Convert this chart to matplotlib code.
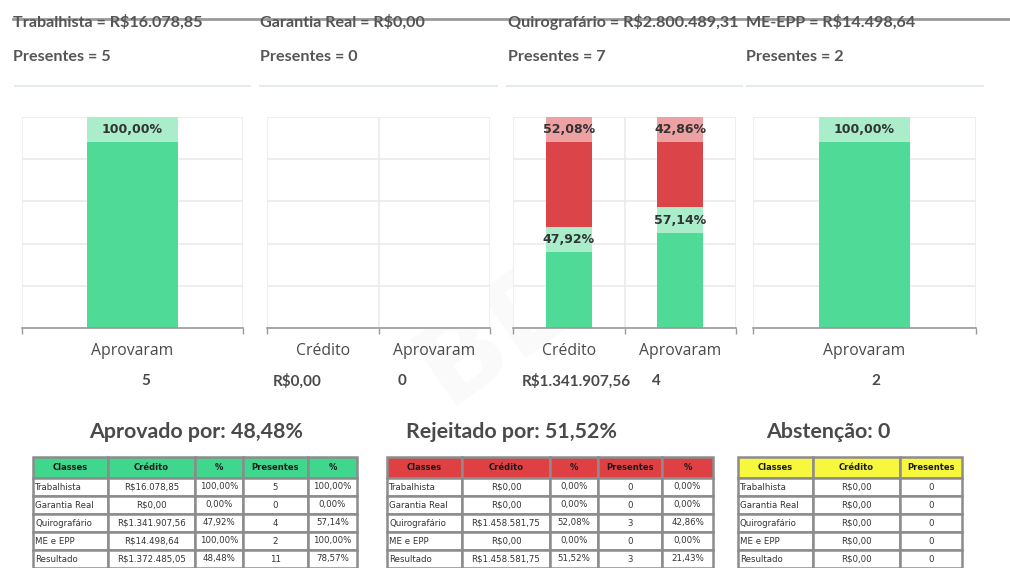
import matplotlib.pyplot as plt
from matplotlib.patches import Rectangle
from matplotlib.lines import Line2D
import numpy as np

W, H = 1010, 568

# ---------------------------------------------------------------- data
header_classes = ['Trabalhista', 'Garantia Real', 'Quirografário', 'ME-EPP']
header_credito = ['R$16.078,85', 'R$0,00', 'R$2.800.489,31', 'R$14.498,64']
presentes = [5, 0, 7, 2]

panel_categories = [['Aprovaram'], ['Crédito', 'Aprovaram'], ['Crédito', 'Aprovaram'], ['Aprovaram']]
aprovado_pct = [[100.00], [0.0, 0.0], [47.92, 57.14], [100.00]]
rejeitado_pct = [[0.0], [0.0, 0.0], [52.08, 42.86], [0.0]]
panel_values = [['5'], ['R$0,00', '0'], ['R$1.341.907,56', '4'], ['2']]

summary = ['Aprovado por: 48,48%', 'Rejeitado por: 51,52%', 'Abstenção: 0']

table_classes = ['Trabalhista', 'Garantia Real', 'Quirografário', 'ME e EPP', 'Resultado']
aprov_credito = ['R$16.078,85', 'R$0,00', 'R$1.341.907,56', 'R$14.498,64', 'R$1.372.485,05']
aprov_pct_cred = ['100,00%', '0,00%', '47,92%', '100,00%', '48,48%']
aprov_pres = ['5', '0', '4', '2', '11']
aprov_pct_pres = ['100,00%', '0,00%', '57,14%', '100,00%', '78,57%']
rej_credito = ['R$0,00', 'R$0,00', 'R$1.458.581,75', 'R$0,00', 'R$1.458.581,75']
rej_pct_cred = ['0,00%', '0,00%', '52,08%', '0,00%', '51,52%']
rej_pres = ['0', '0', '3', '0', '3']
rej_pct_pres = ['0,00%', '0,00%', '42,86%', '0,00%', '21,43%']
abst_credito = ['R$0,00', 'R$0,00', 'R$0,00', 'R$0,00', 'R$0,00']
abst_pres = ['0', '0', '0', '0', '0']

# ---------------------------------------------------------------- style
GREEN = '#4fdb97'
GREEN_BAND = '#a9edca'
RED = '#db4549'
RED_BAND = '#eea1a3'
TXT = '#4a4a4a'
HEAD_FONT = 'Lato'
LABEL_FONT = 'Open Sans'

fig = plt.figure(figsize=(W / 100, H / 100), dpi=100)
bg = fig.add_axes([0, 0, 1, 1])
bg.set_xlim(0, W)
bg.set_ylim(H, 0)
bg.axis('off')

# top rule and header texts
bg.add_line(Line2D([13, W], [19, 19], color='#9a9a9a', lw=2))
header_x = [13, 260, 508, 746]
sep_spans = [(15, 250), (260, 497), (507, 742), (747, 983)]
for i in range(4):
    bg.text(header_x[i], 22, '{0} = {1}'.format(header_classes[i], header_credito[i]),
            fontsize=11.6, fontweight='bold', family=HEAD_FONT, color='#555555', va='center')
    bg.text(header_x[i], 57, 'Presentes = {0}'.format(presentes[i]),
            fontsize=11.6, fontweight='bold', family=HEAD_FONT, color='#555555', va='center')
    bg.add_line(Line2D(sep_spans[i], [86, 86], color='#e6ecec', lw=1.5))

# ---------------------------------------------------------------- bar panels
ax_left = [22, 267, 513, 753]
ax_right = [243, 490, 736, 976]
ax_top, ax_bot = 117, 328
band = 12


def band_label(ax, x, top, bottom, color, text):
    h = min(band, top - bottom)
    ax.bar(x, h, bottom=top - h, width=0.41, color=color, zorder=3)
    ax.text(x, top - h / 2, text, ha='center', va='center', fontsize=9,
            fontweight='bold', color='#333333', zorder=4)


for i in range(4):
    ax = fig.add_axes([ax_left[i] / W, 1 - ax_bot / H,
                       (ax_right[i] - ax_left[i]) / W, (ax_bot - ax_top) / H])
    cats = panel_categories[i]
    n = len(cats)
    x = np.arange(n)
    ap = np.array(aprovado_pct[i])
    rj = np.array(rejeitado_pct[i])
    ax.bar(x, ap, width=0.41, color=GREEN, zorder=2)
    ax.bar(x, rj, bottom=ap, width=0.41, color=RED, zorder=2)
    for j in range(n):
        if ap[j] > 0:
            band_label(ax, x[j], ap[j], 0, GREEN_BAND, '{0:.2f}%'.format(ap[j]).replace('.', ','))
        if rj[j] > 0:
            band_label(ax, x[j], ap[j] + rj[j], ap[j], RED_BAND, '{0:.2f}%'.format(rj[j]).replace('.', ','))
    ax.set_xlim(-0.5, n - 0.5)
    ax.set_ylim(0, 100)
    ax.set_yticks(np.arange(0, 101, 20))
    ax.yaxis.grid(True, color='#ebebeb', lw=1.2)
    ax.set_xticks(np.arange(-0.5, n, 1.0), minor=True)
    ax.xaxis.grid(True, which='minor', color='#ebebeb', lw=1.2)
    ax.set_axisbelow(True)
    ax.set_xticks(x)
    ax.set_xticklabels(cats, fontsize=11.3, family=LABEL_FONT, color=TXT)
    ax.tick_params(axis='x', which='major', length=0, pad=11)
    ax.tick_params(axis='x', which='minor', length=4, color='#999999', width=1)
    ax.tick_params(axis='y', left=False, labelleft=False)
    for s in ['top', 'left', 'right']:
        ax.spines[s].set_visible(False)
    ax.spines['bottom'].set_color('#9a9a9a')
    ax.spines['bottom'].set_linewidth(1.2)

# values under categories
value_pos = [[(146, 'center')], [(297, 'center'), (398, 'left')],
             [(576, 'center'), (652, 'left')], [(876, 'center')]]
for i in range(4):
    for j, v in enumerate(panel_values[i]):
        px, ha = value_pos[i][j]
        bg.text(px, 381, v, ha=ha, va='center', fontsize=11, fontweight='bold',
                family=HEAD_FONT, color=TXT)

# summary headings
summary_x = [196, 512, 828]
for sx, s in zip(summary_x, summary):
    bg.text(sx, 432, s, ha='center', va='center', fontsize=15.4, fontweight='bold',
            family=HEAD_FONT, color=TXT)

# watermark
bg.text(530, 310, 'BEX', ha='center', va='center', fontsize=80, fontweight='bold',
        rotation=35, color='#000000', alpha=0.022, zorder=10)


# ---------------------------------------------------------------- tables
def draw_table(x_edges, head, columns, head_color):
    y0, head_h, row_h = 457, 21, 18
    for c in range(len(head)):
        xa, xb = x_edges[c], x_edges[c + 1]
        bg.add_patch(Rectangle((xa, y0), xb - xa, head_h, facecolor=head_color,
                               edgecolor='#8c8c8c', lw=1.8))
        bg.text((xa + xb) / 2, y0 + head_h / 2, head[c], ha='center', va='center',
                fontsize=6, fontweight='bold', color='#1a1a1a')
        for r, val in enumerate(columns[c]):
            ya = y0 + head_h + r * row_h
            bg.add_patch(Rectangle((xa, ya), xb - xa, row_h, facecolor='white',
                                   edgecolor='#8c8c8c', lw=1.8))
            if c == 0:
                bg.text(xa + 2, ya + row_h / 2, val, ha='left', va='center',
                        fontsize=6.2, color='#333333')
            else:
                bg.text((xa + xb) / 2, ya + row_h / 2, val, ha='center', va='center',
                        fontsize=6.2, color='#333333')


draw_table([33, 108, 195, 243, 308, 357],
           ['Classes', 'Crédito', '%', 'Presentes', '%'],
           [table_classes, aprov_credito, aprov_pct_cred, aprov_pres, aprov_pct_pres],
           '#3fd68e')
draw_table([387, 462, 550, 598, 662, 713],
           ['Classes', 'Crédito', '%', 'Presentes', '%'],
           [table_classes, rej_credito, rej_pct_cred, rej_pres, rej_pct_pres],
           '#df4044')
draw_table([738, 813, 900, 962],
           ['Classes', 'Crédito', 'Presentes'],
           [table_classes, abst_credito, abst_pres],
           '#f7f73e')

fig.savefig('out.png', dpi=100)
